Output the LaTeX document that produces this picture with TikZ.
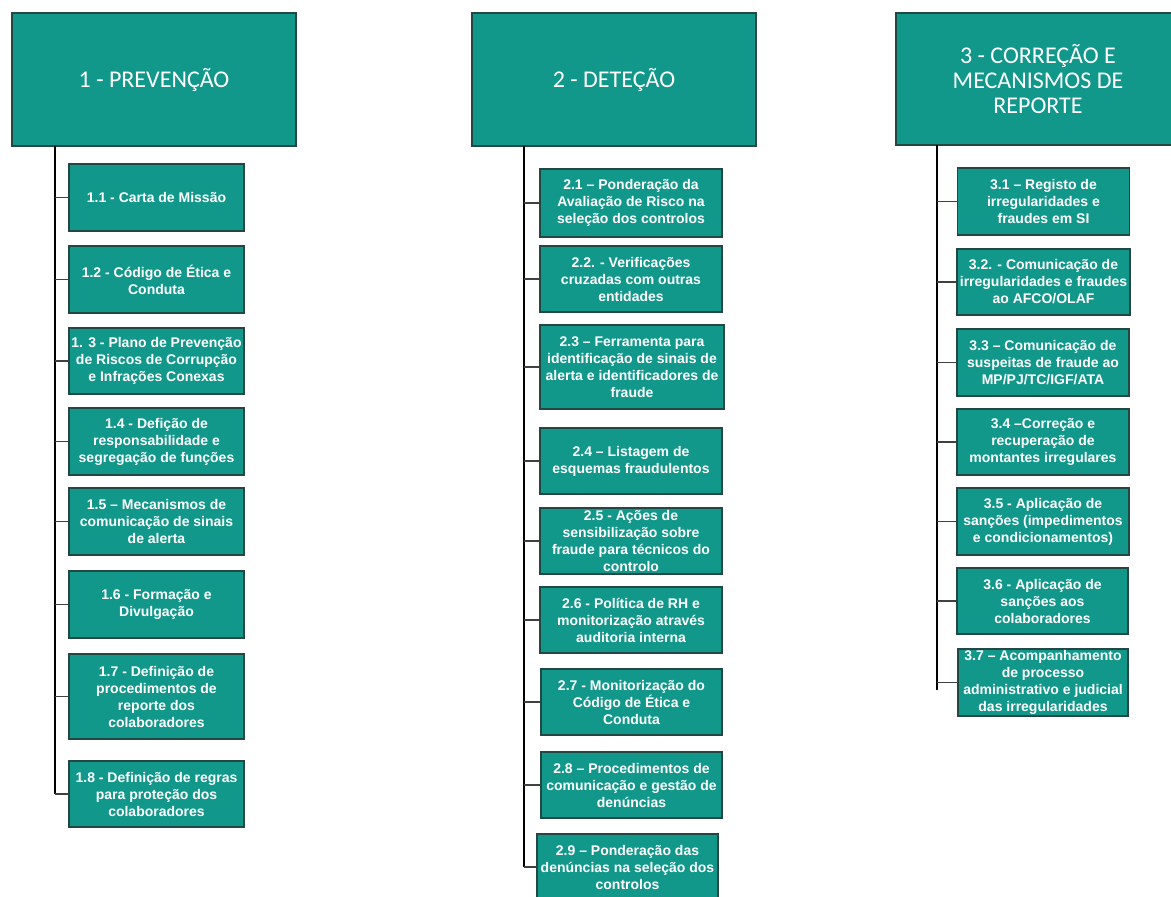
\documentclass[tikz,border=0pt]{standalone}
\usepackage{fontspec}
\newfontfamily\boxfont{Liberation Sans}
\newfontfamily\headfont{Carlito}
\definecolor{tealfill}{RGB}{17,152,138}
\definecolor{tealedge}{RGB}{35,72,68}
\begin{document}
\begin{tikzpicture}[x=1pt,y=-1pt,
  head/.style={draw=tealedge, line width=1.2pt, fill=tealfill, text=white, align=center,
    inner sep=2pt, font=\headfont\fontsize{24}{25}\selectfont},
  sub/.style={draw=tealedge, line width=1.1pt, fill=tealfill, text=white, align=center,
    inner sep=0pt, font=\boxfont\bfseries\fontsize{14}{17}\selectfont},
  trunk/.style={draw=black, line width=1.8pt},
  conn/.style={draw=black!75, line width=1.4pt}]
\clip (0,0) rectangle (1171,897);
\fill[white] (0,0) rectangle (1171,897);

% headers
\node[head, minimum width=284, minimum height=133] (h1) at (154,79.5) {1 - PREVENÇÃO};
\node[head, minimum width=284, minimum height=133] (h2) at (614,79.5) {2 - DETEÇÃO};
\node[head, minimum width=284, minimum height=132] (h3) at (1038,79) {3 - CORREÇÃO E\\MECANISMOS DE\\REPORTE};

% column 1
\node[sub, minimum width=175, minimum height=67] (b11) at (156.5,197.5) {1.1 - Carta de Missão};
\node[sub, minimum width=175, minimum height=67] (b12) at (156.5,279.5) {1.2 - Código de Ética e\\Conduta};
\node[sub, minimum width=175, minimum height=66] (b13) at (156.5,361) {1. 3 - Plano de Prevenção\\de Riscos de Corrupção\\e Infrações Conexas};
\node[sub, minimum width=175, minimum height=67] (b14) at (156.5,441.5) {1.4 - Defição de\\responsabilidade e\\segregação de funções};
\node[sub, minimum width=175, minimum height=67] (b15) at (156.5,521.5) {1.5 – Mecanismos de\\comunicação de sinais\\de alerta};
\node[sub, minimum width=175, minimum height=67] (b16) at (156.5,604.5) {1.6 - Formação e\\Divulgação};
\node[sub, minimum width=175, minimum height=85] (b17) at (156.5,696.5) {1.7 - Definição de\\procedimentos de\\reporte dos\\colaboradores};
\node[sub, minimum width=175, minimum height=66] (b18) at (156.5,794) {1.8 - Definição de regras\\para proteção dos\\colaboradores};

% column 2
\node[sub, minimum width=182, minimum height=68] (b21) at (631,203) {2.1 – Ponderação da\\Avaliação de Risco na\\seleção dos controlos};
\node[sub, minimum width=182, minimum height=66] (b22) at (631,279) {2.2. - Verificações\\cruzadas com outras\\entidades};
\node[sub, minimum width=184, minimum height=84] (b23) at (632,367) {2.3 – Ferramenta para\\identificação de sinais de\\alerta e identificadores de\\fraude};
\node[sub, minimum width=182, minimum height=66] (b24) at (631,461) {2.4 – Listagem de\\esquemas fraudulentos};
\node[sub, minimum width=182, minimum height=66] (b25) at (631,541) {2.5 - Ações de\\sensibilização sobre\\fraude para técnicos do\\controlo};
\node[sub, minimum width=182, minimum height=66] (b26) at (631,620) {2.6 - Política de RH e\\monitorização através\\auditoria interna};
\node[sub, minimum width=181, minimum height=66] (b27) at (631.5,702) {2.7 - Monitorização do\\Código de Ética e\\Conduta};
\node[sub, minimum width=181, minimum height=66] (b28) at (631.5,785) {2.8 – Procedimentos de\\comunicação e gestão de\\denúncias};
\node[sub, minimum width=181, minimum height=66] (b29) at (627.5,867) {2.9 – Ponderação das\\denúncias na seleção dos\\controlos};

% column 3
\node[sub, minimum width=172, minimum height=67] (b31) at (1043.5,201.5) {3.1 – Registo de\\irregularidades e\\fraudes em SI};
\node[sub, minimum width=173, minimum height=66] (b32) at (1043.5,282) {3.2. - Comunicação de\\irregularidades e fraudes\\ao AFCO/OLAF};
\node[sub, minimum width=172, minimum height=67] (b33) at (1043,362.5) {3.3 – Comunicação de\\suspeitas de fraude ao\\MP/PJ/TC/IGF/ATA};
\node[sub, minimum width=172, minimum height=66] (b34) at (1043,442) {3.4 –Correção e\\recuperação de\\montantes irregulares};
\node[sub, minimum width=172, minimum height=67] (b35) at (1043,521.5) {3.5 - Aplicação de\\sanções (impedimentos\\e condicionamentos)};
\node[sub, minimum width=171, minimum height=66] (b36) at (1042.5,601) {3.6 - Aplicação de\\sanções aos\\colaboradores};
\node[sub, minimum width=170, minimum height=67] (b37) at (1043,682.5) {3.7 – Acompanhamento\\de processo\\administrativo e judicial\\das irregularidades};

% trunks
\coordinate (t1) at (55,146);
\coordinate (t2) at (524,146);
\coordinate (t3) at (937,145);
\coordinate (e3) at (937,690);
\draw[trunk] (t1) -- (t1 |- b18.west);
\draw[trunk] (t2) -- (t2 |- b29.west);
\draw[trunk] (t3) -- (e3);

% connectors
\foreach \b in {b11,b12,b13,b14,b15,b16,b17,b18}
  \draw[conn] (t1 |- \b.west) -- (\b.west);
\foreach \b in {b21,b22,b23,b24,b25,b26,b27,b28,b29}
  \draw[conn] (t2 |- \b.west) -- (\b.west);
\foreach \b in {b31,b32,b33,b34,b35,b36,b37}
  \draw[conn] (t3 |- \b.west) -- (\b.west);
\end{tikzpicture}
\end{document}
